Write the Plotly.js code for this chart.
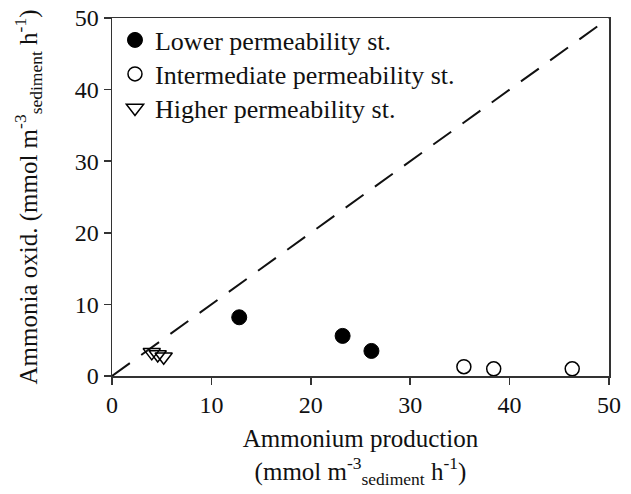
<!DOCTYPE html>
<html>
<head>
<meta charset="utf-8">
<script src="https://cdn.plot.ly/plotly-3.0.1.min.js"></script>
<style>html,body{margin:0;padding:0;background:#fff;}#chart{width:631px;height:494px;}</style>
</head>
<body>
<div id="chart"></div>
<script>
// Lower permeability stations
const lowerX = [12.8, 23.2, 26.1];
const lowerY = [8.2, 5.6, 3.5];
// Intermediate permeability stations
const interX = [35.4, 38.4, 46.3];
const interY = [1.3, 1.0, 1.0];
// Higher permeability stations
const higherX = [4.0, 4.6, 5.2];
const higherY = [3.3, 3.0, 2.7];
// 1:1 reference line
const refX = [0, 50];
const refY = [0, 50];
const tickVals = [0, 10, 20, 30, 40, 50];

const FONT = '"Liberation Serif", "Times New Roman", serif';
const traces = [
  {x: refX, y: refY, mode: 'lines', showlegend: false, hoverinfo: 'skip',
   line: {color: '#111', width: 2, dash: '22px,14px'}},
  {x: lowerX, y: lowerY, mode: 'markers', name: 'Lower permeability st.', legend: 'legend',
   marker: {symbol: 'circle', size: 15, color: '#000', line: {color: '#000', width: 1}}},
  {x: interX, y: interY, mode: 'markers', name: 'Intermediate permeability st.', legend: 'legend2',
   marker: {symbol: 'circle-open', size: 14, color: '#000', line: {color: '#000', width: 1.5}}},
  {x: higherX, y: higherY, mode: 'markers', name: 'Higher permeability st.', legend: 'legend3',
   marker: {symbol: 'triangle-down-open', size: 15, color: '#000', line: {color: '#000', width: 1.5}}}
];

const axisCommon = {
  showline: true, mirror: true, linecolor: '#333', linewidth: 1.5,
  ticks: 'outside', ticklen: 7, tickwidth: 1.5, tickcolor: '#333',
  showgrid: false, zeroline: false, automargin: false,
  tickfont: {family: FONT, size: 24, color: '#111'},
  tickvals: tickVals, range: [0, 50]
};

const legendCommon = {x: 0.006, xanchor: 'left', yanchor: 'middle',
  bgcolor: 'rgba(0,0,0,0)', borderwidth: 0,
  font: {family: FONT, size: 26, color: '#111'}};

const layout = {
  width: 631, height: 494,
  margin: {l: 112, r: 22, t: 18, b: 118},
  paper_bgcolor: '#fff', plot_bgcolor: '#fff',
  font: {family: FONT, color: '#111'},
  xaxis: Object.assign({}, axisCommon, {
    title: {text: 'Ammonium production<br>(mmol m<sup>-3</sup><sub>sediment</sub> h<sup>-1</sup>)',
            font: {family: FONT, size: 25, color: '#111'}, standoff: 12}
  }),
  yaxis: Object.assign({}, axisCommon, {
    title: {text: 'Ammonia oxid. (mmol m<sup>-3</sup><sub>sediment</sub> h<sup>-1</sup>)',
            font: {family: FONT, size: 25, color: '#111'}, standoff: 30}
  }),
  legend: Object.assign({}, legendCommon, {y: 0.9385}),
  legend2: Object.assign({}, legendCommon, {y: 0.8436}),
  legend3: Object.assign({}, legendCommon, {y: 0.7486}),
  showlegend: true
};

Plotly.newPlot('chart', traces, layout, {displayModeBar: false, staticPlot: true});
</script>
</body>
</html>
